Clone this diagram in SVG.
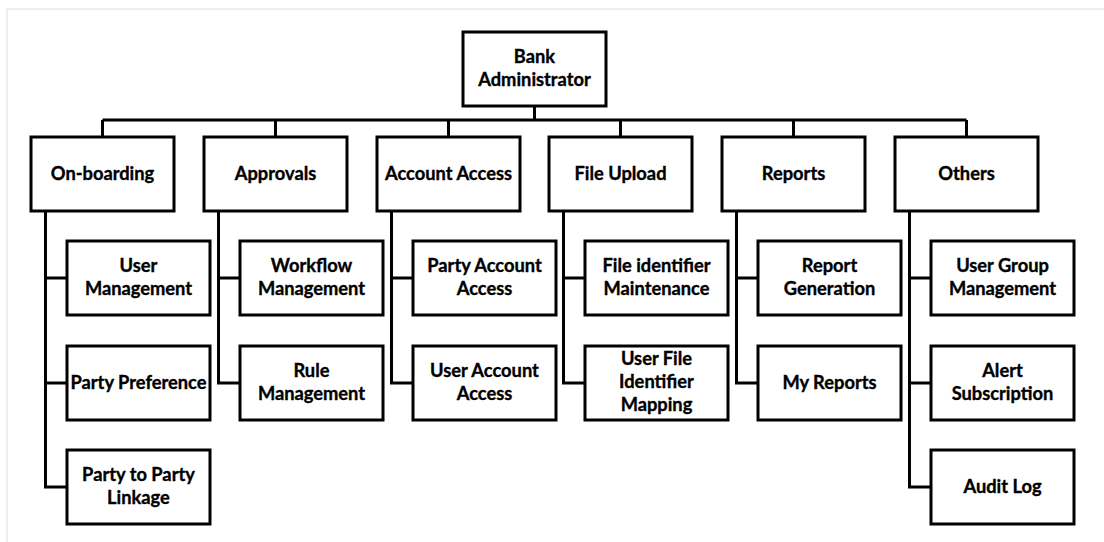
<svg xmlns="http://www.w3.org/2000/svg" width="1104" height="542" viewBox="0 0 1104 542">
  <style>
    .box { fill: #fff; stroke: #000; stroke-width: 3; }
    .lbl { font-family: Lato, "Open Sans", "Liberation Sans", sans-serif; font-weight: bold; font-size: 18.3px; fill: #000; text-anchor: middle; stroke: #000; stroke-width: 0.35px; }
    .wire { fill: none; stroke: #000; stroke-width: 3; }
  </style>
  <rect width="1104" height="542" fill="#fff"/>
  <!-- page frame -->
  <rect x="7" y="9" width="1110" height="560" fill="none" stroke="#ededed" stroke-width="2"/>

  <!-- connectors -->
  <g id="connectors" class="wire">
    <path d="M534.5 106 V120 M102.5 120 H966.5 M102.5 120 V137 M275.5 120 V137 M448.5 120 V137 M620.5 120 V137 M793.5 120 V137 M966.5 120 V137"/>
    <path d="M45.5 211 V487 H67 M45.5 278 H67 M45.5 383 H67"/>
    <path d="M218.5 211 V383 H240 M218.5 278 H240"/>
    <path d="M391.5 211 V383 H413 M391.5 278 H413"/>
    <path d="M563.5 211 V383 H585 M563.5 278 H585"/>
    <path d="M736.5 211 V383 H758 M736.5 278 H758"/>
    <path d="M909.5 211 V487 H931 M909.5 278 H931 M909.5 383 H931"/>
  </g>

  <g id="bank-administrator">
    <rect class="box" x="463" y="32" width="143" height="74"/>
    <text class="lbl" x="534.5" y="63">Bank</text>
    <text class="lbl" x="534.5" y="86">Administrator</text>
  </g>

  <g id="on-boarding">
    <rect class="box" x="31" y="137" width="143" height="74"/>
    <text class="lbl" x="102.5" y="180">On-boarding</text>
  </g>
  <g id="approvals">
    <rect class="box" x="204" y="137" width="143" height="74"/>
    <text class="lbl" x="275.5" y="180">Approvals</text>
  </g>
  <g id="account-access">
    <rect class="box" x="377" y="137" width="143" height="74"/>
    <text class="lbl" x="448.5" y="180">Account Access</text>
  </g>
  <g id="file-upload">
    <rect class="box" x="549" y="137" width="143" height="74"/>
    <text class="lbl" x="620.5" y="180">File Upload</text>
  </g>
  <g id="reports">
    <rect class="box" x="722" y="137" width="143" height="74"/>
    <text class="lbl" x="793.5" y="180">Reports</text>
  </g>
  <g id="others">
    <rect class="box" x="895" y="137" width="143" height="74"/>
    <text class="lbl" x="966.5" y="180">Others</text>
  </g>

  <!-- On-boarding children -->
  <g id="user-management">
    <rect class="box" x="67" y="241" width="143" height="74"/>
    <text class="lbl" x="138.5" y="272">User</text>
    <text class="lbl" x="138.5" y="295">Management</text>
  </g>
  <g id="party-preference">
    <rect class="box" x="67" y="346" width="143" height="74"/>
    <text class="lbl" x="138.5" y="389">Party Preference</text>
  </g>
  <g id="party-to-party-linkage">
    <rect class="box" x="67" y="450" width="143" height="74"/>
    <text class="lbl" x="138.5" y="481">Party to Party</text>
    <text class="lbl" x="138.5" y="504">Linkage</text>
  </g>

  <!-- Approvals children -->
  <g id="workflow-management">
    <rect class="box" x="240" y="241" width="143" height="74"/>
    <text class="lbl" x="311.5" y="272">Workflow</text>
    <text class="lbl" x="311.5" y="295">Management</text>
  </g>
  <g id="rule-management">
    <rect class="box" x="240" y="346" width="143" height="74"/>
    <text class="lbl" x="311.5" y="377">Rule</text>
    <text class="lbl" x="311.5" y="400">Management</text>
  </g>

  <!-- Account Access children -->
  <g id="party-account-access">
    <rect class="box" x="413" y="241" width="143" height="74"/>
    <text class="lbl" x="484.5" y="272">Party Account</text>
    <text class="lbl" x="484.5" y="295">Access</text>
  </g>
  <g id="user-account-access">
    <rect class="box" x="413" y="346" width="143" height="74"/>
    <text class="lbl" x="484.5" y="377">User Account</text>
    <text class="lbl" x="484.5" y="400">Access</text>
  </g>

  <!-- File Upload children -->
  <g id="file-identifier-maintenance">
    <rect class="box" x="585" y="241" width="143" height="74"/>
    <text class="lbl" x="656.5" y="272">File identifier</text>
    <text class="lbl" x="656.5" y="295">Maintenance</text>
  </g>
  <g id="user-file-identifier-mapping">
    <rect class="box" x="585" y="346" width="143" height="74"/>
    <text class="lbl" x="656.5" y="365">User File</text>
    <text class="lbl" x="656.5" y="388">Identifier</text>
    <text class="lbl" x="656.5" y="411">Mapping</text>
  </g>

  <!-- Reports children -->
  <g id="report-generation">
    <rect class="box" x="758" y="241" width="143" height="74"/>
    <text class="lbl" x="829.5" y="272">Report</text>
    <text class="lbl" x="829.5" y="295">Generation</text>
  </g>
  <g id="my-reports">
    <rect class="box" x="758" y="346" width="143" height="74"/>
    <text class="lbl" x="829.5" y="389">My Reports</text>
  </g>

  <!-- Others children -->
  <g id="user-group-management">
    <rect class="box" x="931" y="241" width="143" height="74"/>
    <text class="lbl" x="1002.5" y="272">User Group</text>
    <text class="lbl" x="1002.5" y="295">Management</text>
  </g>
  <g id="alert-subscription">
    <rect class="box" x="931" y="346" width="143" height="74"/>
    <text class="lbl" x="1002.5" y="377">Alert</text>
    <text class="lbl" x="1002.5" y="400">Subscription</text>
  </g>
  <g id="audit-log">
    <rect class="box" x="931" y="450" width="143" height="74"/>
    <text class="lbl" x="1002.5" y="493">Audit Log</text>
  </g>
</svg>
